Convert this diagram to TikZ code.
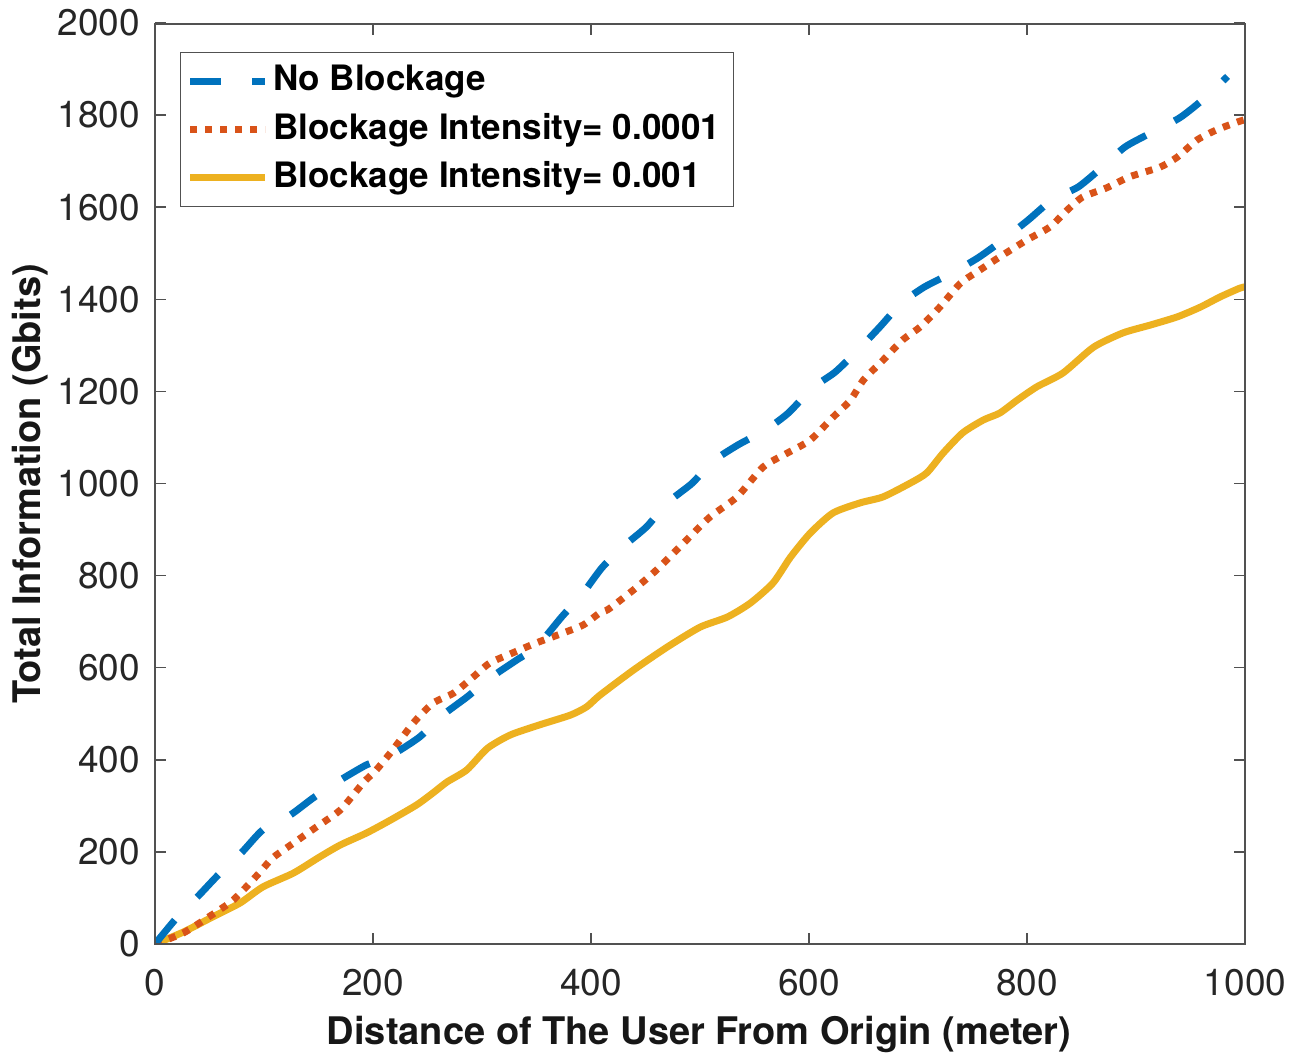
\documentclass[tikz,border=0pt]{standalone}
\usepackage{fontspec}
\setmainfont{TeX Gyre Heros}
\definecolor{mblue}{HTML}{0072BD}
\definecolor{mred}{HTML}{D95319}
\definecolor{myellow}{HTML}{EDB120}
\definecolor{axgray}{HTML}{262626}
\begin{document}
\begin{tikzpicture}[x=1pt,y=-1pt,
  axisline/.style={draw=axgray!80, line width=1.5pt},
  ticklab/.style={text=axgray, inner sep=0pt, font=\fontsize{37}{40}\selectfont},
  axlab/.style={text=axgray!60!black, inner sep=0pt, font=\fontsize{38}{42}\selectfont\bfseries},
  legtext/.style={text=black, inner sep=0pt, anchor=west, font=\fontsize{35}{38}\selectfont\bfseries},
  blueline/.style={draw=mblue, line width=7pt, dash pattern=on 31pt off 32pt, line cap=butt, line join=round},
  redline/.style={draw=mred, line width=7pt, dash pattern=on 7pt off 8pt, line cap=butt, line join=round},
  yelline/.style={draw=myellow, line width=7pt, line cap=round, line join=round},
  legbox/.style={draw=axgray!80, line width=1.2pt, fill=white}
]
\useasboundingbox[fill=white] (0,0) rectangle (1308,1059);

% axes corners
\coordinate (SW) at (155,944);
\coordinate (NE) at (1245,24);

% data curves
\begin{scope}[shift={(155,944)}, x=1.09pt, y=0.4605pt]
\clip (0,0) rectangle (1000,2000);
\draw[yelline] plot[smooth, tension=0.4] coordinates {
(0,0) (26,26) (53,59) (78,89) (99,124) (127,154) (151,189) (170,215) (194,241)
(216,269) (240,302) (255,328) (268,352) (286,378) (305,425) (326,454) (353,476)
(381,497) (396,515) (408,540) (439,595) (470,645) (500,688) (525,710) (546,740)
(567,784) (583,840) (601,892) (622,936) (647,958) (668,971) (693,1001) (708,1023)
(723,1066) (741,1110) (760,1138) (775,1153) (791,1181) (809,1210) (833,1240)
(861,1296) (888,1327) (913,1344) (938,1362) (959,1383) (977,1405) (995,1424) (1000,1427)};
\draw[redline] plot[smooth, tension=0.4] coordinates {
(0,0) (26,24) (52,63) (72,96) (94,150) (108,187) (127,219) (148,254) (170,291)
(191,350) (203,378) (218,421) (237,480) (255,523) (274,545) (292,580) (307,610)
(328,632) (350,654) (374,675) (393,693) (408,719) (416,727) (439,769) (460,812)
(485,871) (509,927) (534,971) (558,1036) (580,1066) (601,1094) (622,1144)
(638,1181) (650,1225) (668,1268) (686,1312) (702,1340) (720,1383) (739,1435)
(757,1464) (775,1492) (800,1529) (821,1557) (837,1594) (851,1622) (873,1642)
(894,1666) (922,1687) (938,1709) (956,1746) (974,1768) (993,1785) (1000,1790)};
\draw[blueline] plot[smooth, tension=0.4] coordinates {
(0,0) (20,57) (40,105) (58,150) (80,200) (99,248) (124,280) (145,317) (170,356)
(194,389) (208,400) (222,417) (243,450) (264,497) (286,536) (309,580) (332,617)
(350,645) (373,710) (392,760) (410,817) (429,862) (451,906) (470,958) (493,1001)
(511,1047) (535,1084) (560,1116) (581,1153) (603,1207) (624,1242) (645,1290)
(665,1340) (685,1392) (706,1427) (731,1457) (755,1490) (778,1529) (801,1572)
(823,1616) (847,1644) (869,1687) (890,1731) (915,1763) (940,1794) (961,1833)
(984,1884)};
\end{scope}

% axes box
\draw[axisline] (SW) rectangle (NE);

% ticks and tick labels
\foreach \i in {0,...,5}{
  \pgfmathsetmacro{\xx}{155+218*\i}
  \pgfmathtruncatemacro{\val}{200*\i}
  \draw[axisline] (\xx,944) -- (\xx,933);
  \draw[axisline] (\xx,24) -- (\xx,35);
  \node[ticklab] (xt\i) at (\xx,983) {\val};
}
\foreach \j in {0,...,10}{
  \pgfmathsetmacro{\yy}{944-92.1*\j}
  \pgfmathtruncatemacro{\val}{200*\j}
  \draw[axisline] (155,\yy) -- (166,\yy);
  \draw[axisline] (1245,\yy) -- (1234,\yy);
  \node[ticklab, anchor=east] (yt\j) at (140,\yy) {\val};
}

% axis labels
\node[axlab] (xlab) at (699,1034) {Distance of The User From Origin (meter)};
\node[axlab, rotate=90] (ylab) at (30,484) {Total Information (Gbits)};

% legend
\node[legbox, minimum width=553pt, minimum height=154pt, anchor=north west, inner sep=0pt] (leg) at (180,52) {};
\coordinate (l1a) at (190,82);  \coordinate (l1b) at (265,82);
\coordinate (l2a) at (190,130); \coordinate (l2b) at (265,130);
\coordinate (l3a) at (190,178); \coordinate (l3b) at (265,178);
\draw[blueline, dash pattern=on 31pt off 31pt] (l1a) -- (l1b);
\draw[redline] (l2a) -- (l2b);
\draw[yelline, line cap=butt] (l3a) -- (l3b);
\node[legtext] (t1) at (273,82) {No Blockage};
\node[legtext] (t2) at (273,130) {Blockage Intensity= 0.0001};
\node[legtext] (t3) at (273,178) {Blockage Intensity= 0.001};
\end{tikzpicture}
\end{document}
